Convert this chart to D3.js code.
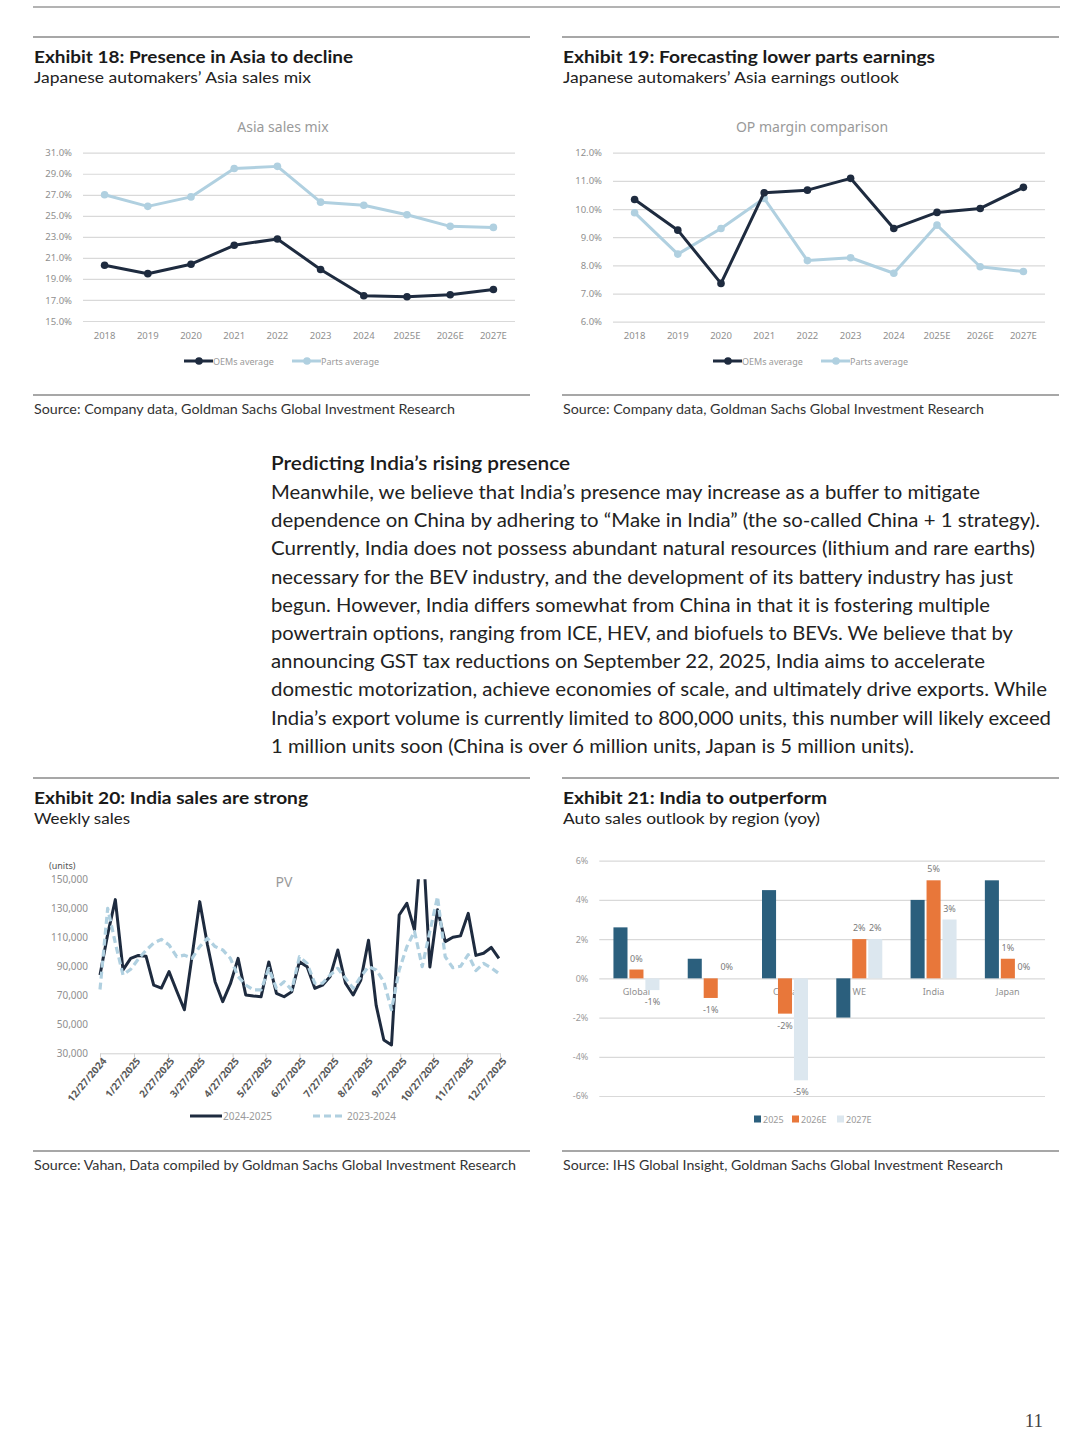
<!DOCTYPE html>
<html><head><meta charset="utf-8">
<script src="https://cdn.jsdelivr.net/npm/d3@7"></script>
<style>body{margin:0;background:#fff}svg{display:block}</style>
</head><body><svg id="page" width="1080" height="1448"></svg>
<script>
// ---------------- DATA ----------------
const years = ["2018","2019","2020","2021","2022","2023","2024","2025E","2026E","2027E"];
const asiaOEM   = [20.3,19.5,20.4,22.2,22.8,19.9,17.4,17.3,17.5,18.0];
const asiaParts = [27.0,25.9,26.8,29.5,29.7,26.3,26.0,25.1,24.0,23.9];
const asiaTicks = [15,17,19,21,23,25,27,29,31];
const opOEM   = [10.34,9.25,7.36,10.58,10.67,11.09,9.31,9.88,10.02,10.77];
const opParts = [9.87,8.40,9.31,10.38,8.17,8.27,7.72,9.43,7.95,7.78];
const opTicks = [6,7,8,9,10,11,12];
const weekStart = "12/27/2024";
const sales2425 = [84000,112000,136000,87500,95500,97500,97000,77000,75000,86300,
  73000,60000,97000,134600,105000,79400,65600,78000,95500,70200,
  69500,69000,93000,71400,69000,72500,93200,89700,74800,77000,
  83000,101200,78300,70200,80500,108000,63000,39200,35700,125400,
  133400,115000,185000,89500,129000,107000,110000,111000,126500,97500,
  99000,103000,95500];
const sales2324 = [74000,130000,106000,84000,88000,95000,101000,106000,108600,104700,
  96600,97700,95500,103600,109300,103600,101300,95500,82900,77100,
  73700,73700,88600,74800,79400,73700,96600,92000,78300,78300,
  84000,88600,81700,74800,82900,89800,87500,79400,60000,87400,
  103500,114000,89700,114000,138000,96600,89000,90000,98000,87000,
  92000,89000,85000];
const salesTicks = [30000,50000,70000,90000,110000,130000,150000];
const monthTicks = ["12/27/2024","1/27/2025","2/27/2025","3/27/2025","4/27/2025","5/27/2025",
  "6/27/2025","7/27/2025","8/27/2025","9/27/2025","10/27/2025","11/27/2025","12/27/2025"];
const regions = ["Global","US","China","WE","India","Japan"];
const yoySeries = ["2025","2026E","2027E"];
const yoy2025  = [2.6,1.0,4.5,-2.0,4.0,5.0];
const yoy2026E = [0.45,-1.0,-1.8,2.0,5.0,1.0];
const yoy2027E = [-0.6,0.0,-5.2,2.0,3.0,0.0];
const yoyTicks = [-6,-4,-2,0,2,4,6];

const bodyLines = [
 "Meanwhile, we believe that India’s presence may increase as a buffer to mitigate",
 "dependence on China by adhering to “Make in India” (the so-called China + 1 strategy).",
 "Currently, India does not possess abundant natural resources (lithium and rare earths)",
 "necessary for the BEV industry, and the development of its battery industry has just",
 "begun. However, India differs somewhat from China in that it is fostering multiple",
 "powertrain options, ranging from ICE, HEV, and biofuels to BEVs. We believe that by",
 "announcing GST tax reductions on September 22, 2025, India aims to accelerate",
 "domestic motorization, achieve economies of scale, and ultimately drive exports. While",
 "India’s export volume is currently limited to 800,000 units, this number will likely exceed",
 "1 million units soon (China is over 6 million units, Japan is 5 million units)."
];
const bodyWidths = [709,769,764,742,719,742,714,776,780,643];

// ---------------- STYLE ----------------
const DARK = "#1e2b3f", LIGHT = "#b0d0e0";
const C25 = "#2b5f7d", C26 = "#e8773a", C27 = "#dce7ef";
const AX = "#8f8f8f", GRID = "#d9d9d9";
const TF = "Lato, 'Open Sans', sans-serif";
const CF = "'Noto Sans', 'Open Sans', sans-serif";

const svg = d3.select("#page");

function fit(sel, w) {
  sel.each(function () {
    const L = this.getComputedTextLength();
    if (Math.abs(L - w) > 1) d3.select(this).attr("textLength", w).attr("lengthAdjust", "spacingAndGlyphs");
  });
  return sel;
}
function text(x, y, s, o) {
  const t = svg.append("text").attr("x", x).attr("y", y).text(s)
    .attr("font-family", o.family || TF).attr("font-size", o.size).attr("fill", o.fill || "#222")
    .attr("font-weight", o.weight || "normal").attr("text-anchor", o.anchor || "start");
  if (o.w) fit(t, o.w);
  return t;
}
function rule(x1, x2, y, c, w) {
  svg.append("line").attr("x1", x1).attr("x2", x2).attr("y1", y).attr("y2", y)
    .attr("stroke", c || "#8a8a8a").attr("stroke-width", w || 1.5);
}

// ---------------- PAGE FRAME ----------------
rule(33, 1060, 7, "#9a9a9a", 1.5);

function exhibitFrame(x0, x1, yTop, title, tw, sub, sw, src, srcw, yBot) {
  rule(x0, x1, yTop, "#8a8a8a", 1.5);
  text(x0 + 1, yTop + 26, title, {size: 17, weight: "bold", fill: "#1a1a1a", w: tw});
  text(x0 + 1, yTop + 46, sub, {size: 16, fill: "#222", w: sw});
  rule(x0, x1, yBot, "#8a8a8a", 1.5);
  text(x0 + 1, yBot + 19, src, {size: 13, fill: "#333", w: srcw});
}
exhibitFrame(33, 530, 37, "Exhibit 18: Presence in Asia to decline", 319,
  "Japanese automakers’ Asia sales mix", 277,
  "Source: Company data, Goldman Sachs Global Investment Research", 421, 395);
exhibitFrame(562, 1059, 37, "Exhibit 19: Forecasting lower parts earnings", 372,
  "Japanese automakers’ Asia earnings outlook", 336,
  "Source: Company data, Goldman Sachs Global Investment Research", 421, 395);
exhibitFrame(33, 530, 778, "Exhibit 20: India sales are strong", 274,
  "Weekly sales", 96,
  "Source: Vahan, Data compiled by Goldman Sachs Global Investment Research", 482, 1151);
exhibitFrame(562, 1059, 778, "Exhibit 21: India to outperform", 264,
  "Auto sales outlook by region (yoy)", 257,
  "Source: IHS Global Insight, Goldman Sachs Global Investment Research", 440, 1151);

// ---------------- BODY TEXT ----------------
text(271, 470, "Predicting India’s rising presence", {size: 19.5, weight: 600, fill: "#1a1a1a", w: 299});
bodyLines.forEach((s, i) => text(271, 499 + i * 28.2, s, {size: 19.5, fill: "#222", w: bodyWidths[i]}));

text(1043, 1427, "11", {size: 19, family: "'Liberation Serif', serif", fill: "#444", anchor: "end"});

// ---------------- LINE CHARTS (18, 19) ----------------
function lineChart(o) {
  const g = svg.append("g");
  const x = d3.scaleBand().domain(years).range([o.x0, o.x1]);
  const y = d3.scaleLinear().domain(o.domain).range([o.y0, o.y1]);
  const ya = g.append("g").attr("transform", `translate(${o.x0},0)`)
    .call(d3.axisLeft(y).tickValues(o.ticks).tickSize(-(o.x1 - o.x0)).tickPadding(11)
      .tickFormat(d => d.toFixed(1) + "%"));
  ya.select(".domain").remove();
  ya.selectAll(".tick line").attr("stroke", GRID).attr("stroke-width", 1.2);
  ya.selectAll("text").attr("fill", AX).attr("font-size", 9.5).attr("font-family", CF);
  const xa = g.append("g").attr("transform", `translate(0,${o.y0})`)
    .call(d3.axisBottom(x).tickSize(0).tickPadding(11));
  xa.select(".domain").remove();
  xa.selectAll("text").attr("fill", AX).attr("font-size", 9.5).attr("font-family", CF);
  g.append("text").attr("x", o.tx).attr("y", o.y1 - 21).attr("text-anchor", "middle")
    .attr("font-family", CF).attr("font-size", 14).attr("fill", "#9a9a9a").text(o.title);
  const line = d3.line().x((d, i) => x(years[i]) + x.bandwidth() / 2).y(d => y(d));
  [[o.s2, LIGHT], [o.s1, DARK]].forEach(([s, c]) => {
    g.append("path").datum(s).attr("d", line).attr("fill", "none").attr("stroke", c)
      .attr("stroke-width", 3).attr("stroke-linejoin", "round");
    g.selectAll(null).data(s).enter().append("circle")
      .attr("cx", (d, i) => x(years[i]) + x.bandwidth() / 2).attr("cy", d => y(d))
      .attr("r", 3.8).attr("fill", c);
  });
  // legend
  const ly = o.legendY;
  [[DARK, "OEMs average", o.lx], [LIGHT, "Parts average", o.lx + 108]].forEach(([c, lab, lx]) => {
    g.append("line").attr("x1", lx).attr("x2", lx + 29).attr("y1", ly).attr("y2", ly)
      .attr("stroke", c).attr("stroke-width", 3);
    g.append("circle").attr("cx", lx + 15).attr("cy", ly).attr("r", 3.8).attr("fill", c);
    g.append("text").attr("x", lx + 29).attr("y", ly + 3.5).attr("font-family", CF)
      .attr("font-size", 9).attr("fill", "#9a9a9a").text(lab);
  });
}
lineChart({x0: 83, x1: 515, y0: 321, y1: 152.7, domain: [15, 31], ticks: asiaTicks, tx: 283,
  title: "Asia sales mix", s1: asiaOEM, s2: asiaParts, legendY: 361, lx: 184});
lineChart({x0: 613, x1: 1045, y0: 321.7, y1: 152.7, domain: [6, 12], ticks: opTicks, tx: 812,
  title: "OP margin comparison", s1: opOEM, s2: opParts, legendY: 361, lx: 713});

// ---------------- EXHIBIT 20: weekly sales ----------------
(function () {
  const parse = d3.timeParse("%m/%d/%Y");
  const start = parse(weekStart);
  const dates = sales2425.map((d, i) => d3.timeDay.offset(start, 7 * i));
  const ticks = monthTicks.map(parse);
  const x = d3.scaleTime().domain([ticks[0], ticks[ticks.length - 1]]).range([100, 500]);
  const y = d3.scaleLinear().domain([30000, 150000]).range([1053.3, 879.3]);
  const g = svg.append("g");
  g.append("clipPath").attr("id", "clip20").append("rect")
    .attr("x", 90).attr("y", 879.3).attr("width", 420).attr("height", 190);
  const ya = g.append("g").attr("transform", "translate(100,0)")
    .call(d3.axisLeft(y).tickValues(salesTicks).tickSize(0).tickPadding(12).tickFormat(d3.format(",")));
  ya.select(".domain").remove();
  ya.selectAll("text").attr("fill", AX).attr("font-size", 10).attr("font-family", CF);
  const xa = g.append("g").attr("transform", "translate(0,1053.3)")
    .call(d3.axisBottom(x).tickValues(ticks).tickSize(4).tickFormat((d, i) => monthTicks[i]));
  xa.select(".domain").attr("stroke", "#d0d0d0");
  xa.selectAll(".tick line").attr("stroke", "#d0d0d0");
  xa.selectAll("text").attr("fill", "#5a5a5a").attr("font-size", 10).attr("font-weight", "bold")
    .attr("font-family", CF).attr("text-anchor", "end")
    .attr("transform", "translate(-3,0) rotate(-50)").attr("dy", "0.55em");
  g.append("text").attr("x", 49).attr("y", 869).attr("font-family", CF).attr("font-size", 9)
    .attr("fill", "#555").text("(units)");
  g.append("text").attr("x", 284).attr("y", 887).attr("text-anchor", "middle").attr("font-family", CF)
    .attr("font-size", 14).attr("fill", "#9a9a9a").text("PV");
  const line = d3.line().x((d, i) => x(dates[i])).y(d => y(d));
  const pg = g.append("g").attr("clip-path", "url(#clip20)");
  pg.append("path").datum(sales2425).attr("d", line).attr("fill", "none").attr("stroke", DARK)
    .attr("stroke-width", 3).attr("stroke-linejoin", "round");
  pg.append("path").datum(sales2324).attr("d", line).attr("fill", "none").attr("stroke", LIGHT)
    .attr("stroke-width", 3.2).attr("stroke-dasharray", "7,4").attr("stroke-linejoin", "round");
  // legend
  g.append("line").attr("x1", 190).attr("x2", 222).attr("y1", 1116).attr("y2", 1116)
    .attr("stroke", DARK).attr("stroke-width", 3);
  g.append("text").attr("x", 223).attr("y", 1120).attr("font-family", CF).attr("font-size", 10)
    .attr("fill", "#9a9a9a").text("2024-2025");
  g.append("line").attr("x1", 313).attr("x2", 344).attr("y1", 1116).attr("y2", 1116)
    .attr("stroke", LIGHT).attr("stroke-width", 3).attr("stroke-dasharray", "7,4");
  g.append("text").attr("x", 347).attr("y", 1120).attr("font-family", CF).attr("font-size", 10)
    .attr("fill", "#9a9a9a").text("2023-2024");
})();

// ---------------- EXHIBIT 21: bars ----------------
(function () {
  const vals = [yoy2025, yoy2026E, yoy2027E];
  const cols = [C25, C26, C27];
  const x0 = d3.scaleBand().domain(regions).range([599.3, 1045]);
  const inner = 46;
  const x1 = d3.scaleBand().domain(yoySeries)
    .range([(x0.bandwidth() - inner) / 2, (x0.bandwidth() + inner) / 2]).paddingInner(0.12);
  const y = d3.scaleLinear().domain([-6, 6]).range([1096, 860.7]);
  const g = svg.append("g");
  const ya = g.append("g").attr("transform", "translate(599.3,0)")
    .call(d3.axisLeft(y).tickValues(yoyTicks).tickSize(-(1045 - 599.3)).tickPadding(11)
      .tickFormat(d => (d < 0 ? "-" + Math.abs(d) : d) + "%"));
  ya.select(".domain").remove();
  ya.selectAll(".tick line").attr("stroke", GRID).attr("stroke-width", 1.2);
  ya.selectAll("text").attr("fill", "#9a9a9a").attr("font-size", 9).attr("font-family", CF);
  // category labels (behind bars)
  g.selectAll(null).data(regions).enter().append("text")
    .attr("x", d => x0(d) + x0.bandwidth() / 2).attr("y", y(0) + 17).attr("text-anchor", "middle")
    .attr("font-family", CF).attr("font-size", 9).attr("fill", "#8f8f8f").text(d => d);
  yoySeries.forEach((s, si) => {
    const data = vals[si];
    g.selectAll(null).data(data).enter().append("rect")
      .attr("x", (d, i) => x0(regions[i]) + x1(s)).attr("width", x1.bandwidth())
      .attr("y", d => y(Math.max(0, d))).attr("height", d => Math.abs(y(d) - y(0)))
      .attr("fill", cols[si]);
    if (si > 0) {
      g.selectAll(null).data(data).enter().append("text")
        .attr("x", (d, i) => x0(regions[i]) + x1(s) + x1.bandwidth() / 2)
        .attr("y", d => d >= 0 ? y(d) - 8 : y(d) + 15).attr("text-anchor", "middle")
        .attr("font-family", CF).attr("font-size", 9).attr("fill", "#7a7a7a")
        .text(d => { const r = Math.round(d); return (r < 0 ? "-" + Math.abs(r) : r) + "%"; });
    }
  });
  // legend
  const lx = [754, 792, 837];
  yoySeries.forEach((s, i) => {
    g.append("rect").attr("x", lx[i]).attr("y", 1115.5).attr("width", 7).attr("height", 7).attr("fill", cols[i]);
    g.append("text").attr("x", lx[i] + 9).attr("y", 1122.5).attr("font-family", CF).attr("font-size", 9)
      .attr("fill", "#9a9a9a").text(s);
  });
})();
</script></body></html>
